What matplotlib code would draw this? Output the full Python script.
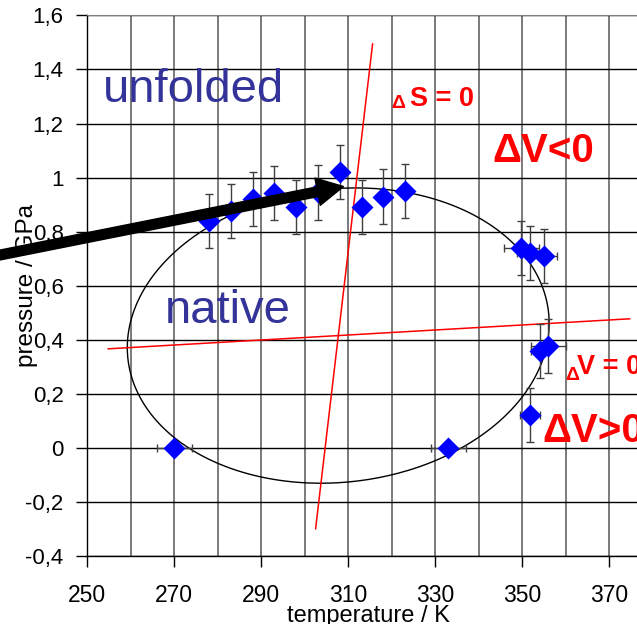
import numpy as np
import matplotlib
matplotlib.use("Agg")
from matplotlib import pyplot as plt
from matplotlib.patches import FancyArrowPatch

plt.rcParams['font.family'] = ['Liberation Sans', 'DejaVu Sans']

# measured points: temperature / K, pressure / GPa, error bars
temp = [270.0, 278.0, 283.0, 288.2, 293.0, 298.0, 303.1, 308.0, 313.1, 318.1, 323.1,
        333.0, 349.8, 351.8, 355.1, 354.1, 356.0, 351.8]
pres = [0.0, 0.84, 0.878, 0.92, 0.942, 0.89, 0.945, 1.022, 0.89, 0.93, 0.951,
        0.0, 0.741, 0.72, 0.71, 0.359, 0.379, 0.123]
temp_err = [4, 0, 0, 0, 0, 0, 0, 0, 0, 0, 0,
            4, 4, 3, 3, 2, 4, 2.3]
pres_err = [0, 0.1, 0.1, 0.1, 0.1, 0.1, 0.1, 0.1, 0.1, 0.1, 0.1,
            0, 0.1, 0.1, 0.1, 0.1, 0.1, 0.1]

# elliptic stability boundary (quadratic form around the centre)
ell_T0, ell_p0 = 307.7, 0.416
ell_a, ell_b, ell_c = 0.000428, -0.003129, 3.379

# dS = 0 and dV = 0 lines
ds_T = [302.5, 315.6]
ds_p = [-0.298, 1.494]
dv_T = [254.8, 374.7]
dv_p = [0.367, 0.478]

# thick arrow
arrow_from = (225.0, 0.698)
arrow_to = (308.9, 0.967)

x_ticks = [250, 270, 290, 310, 330, 350, 370]
y_ticks = [-0.4, -0.2, 0, 0.2, 0.4, 0.6, 0.8, 1.0, 1.2, 1.4, 1.6]
y_labels = ['-0,4', '-0,2', '0', '0,2', '0,4', '0,6', '0,8', '1', '1,2', '1,4', '1,6']

fig = plt.figure(figsize=(6.37, 6.24), dpi=100)
ax = fig.add_axes([87.3 / 637, 67.7 / 624, 1 - 87.3 / 637, 541 / 624])

ax.set_xlim(250, 376.4)
ax.set_ylim(-0.4, 1.6)
ax.set_axisbelow(True)

ax.set_xticks(x_ticks)
ax.set_xticks(np.arange(260, 380, 10), minor=True)
ax.set_yticks(y_ticks)
ax.set_yticklabels(y_labels)
ax.tick_params(axis='x', which='major', direction='out', length=8, width=1, pad=12, labelsize=16.5)
ax.tick_params(axis='x', which='minor', length=0)
ax.tick_params(axis='y', direction='out', length=8, width=1, pad=9, labelsize=16)
ax.grid(True, axis='x', which='both', color='#707070', lw=1.3)
ax.grid(True, axis='y', which='major', color='black', lw=1.0)

ax.spines['right'].set_visible(False)
ax.spines['top'].set_color('#808080')
ax.spines['left'].set_linewidth(1)
ax.spines['bottom'].set_linewidth(1)

# ellipse from the quadratic form
Q = np.array([[ell_a, ell_b], [ell_b, ell_c]])
w, V = np.linalg.eigh(Q)
t = np.linspace(0, 2 * np.pi, 400)
pts = V @ np.diag(1 / np.sqrt(w)) @ np.vstack([np.cos(t), np.sin(t)])
ax.plot(ell_T0 + pts[0], ell_p0 + pts[1], color='black', lw=1.0, zorder=3)

ax.plot(ds_T, ds_p, color='red', lw=1.1, zorder=3)
ax.plot(dv_T, dv_p, color='red', lw=1.1, zorder=3)

xe = [e if e > 0 else np.nan for e in temp_err]
ye = [e if e > 0 else np.nan for e in pres_err]
ax.errorbar(temp, pres, xerr=xe, yerr=ye, fmt='none', ecolor='#404040',
            elinewidth=1.0, capsize=3, capthick=1.0, zorder=4)
ax.plot(temp, pres, 'D', color='#0000FF', ms=11.5, mec='none', zorder=5)

arr = FancyArrowPatch(arrow_from, arrow_to,
                      arrowstyle='simple,head_length=1.9,head_width=2.0,tail_width=0.7',
                      mutation_scale=10, color='black', shrinkA=0, shrinkB=0,
                      clip_on=False, zorder=6)
ax.add_patch(arr)

blue = '#333399'
ax.text(253.6, 1.281, 'unfolded', color=blue, fontsize=34)
ax.text(267.9, 0.462, 'native', color=blue, fontsize=34)

ax.text(320.0, 1.257, 'Δ', color='red', fontsize=14, fontweight='bold')
ax.text(324.2, 1.265, 'S = 0', color='red', fontsize=19.5, fontweight='bold')
ax.text(343.2, 1.057, 'ΔV<0', color='red', fontsize=29, fontweight='bold')
ax.text(359.9, 0.252, 'Δ', color='red', fontsize=14, fontweight='bold', clip_on=False)
ax.text(362.6, 0.274, 'V = 0', color='red', fontsize=19.5, fontweight='bold', clip_on=False)
ax.text(354.6, 0.024, 'ΔV>0', color='red', fontsize=29, fontweight='bold', clip_on=False)

ax.set_xlabel('temperature / K', fontsize=17)
ax.xaxis.set_label_coords(0.511, -0.09)
ax.set_ylabel('pressure / GPa', fontsize=17.5)
ax.yaxis.set_label_coords(-0.0897, 0.5)

fig.savefig('out.png', dpi=100)
